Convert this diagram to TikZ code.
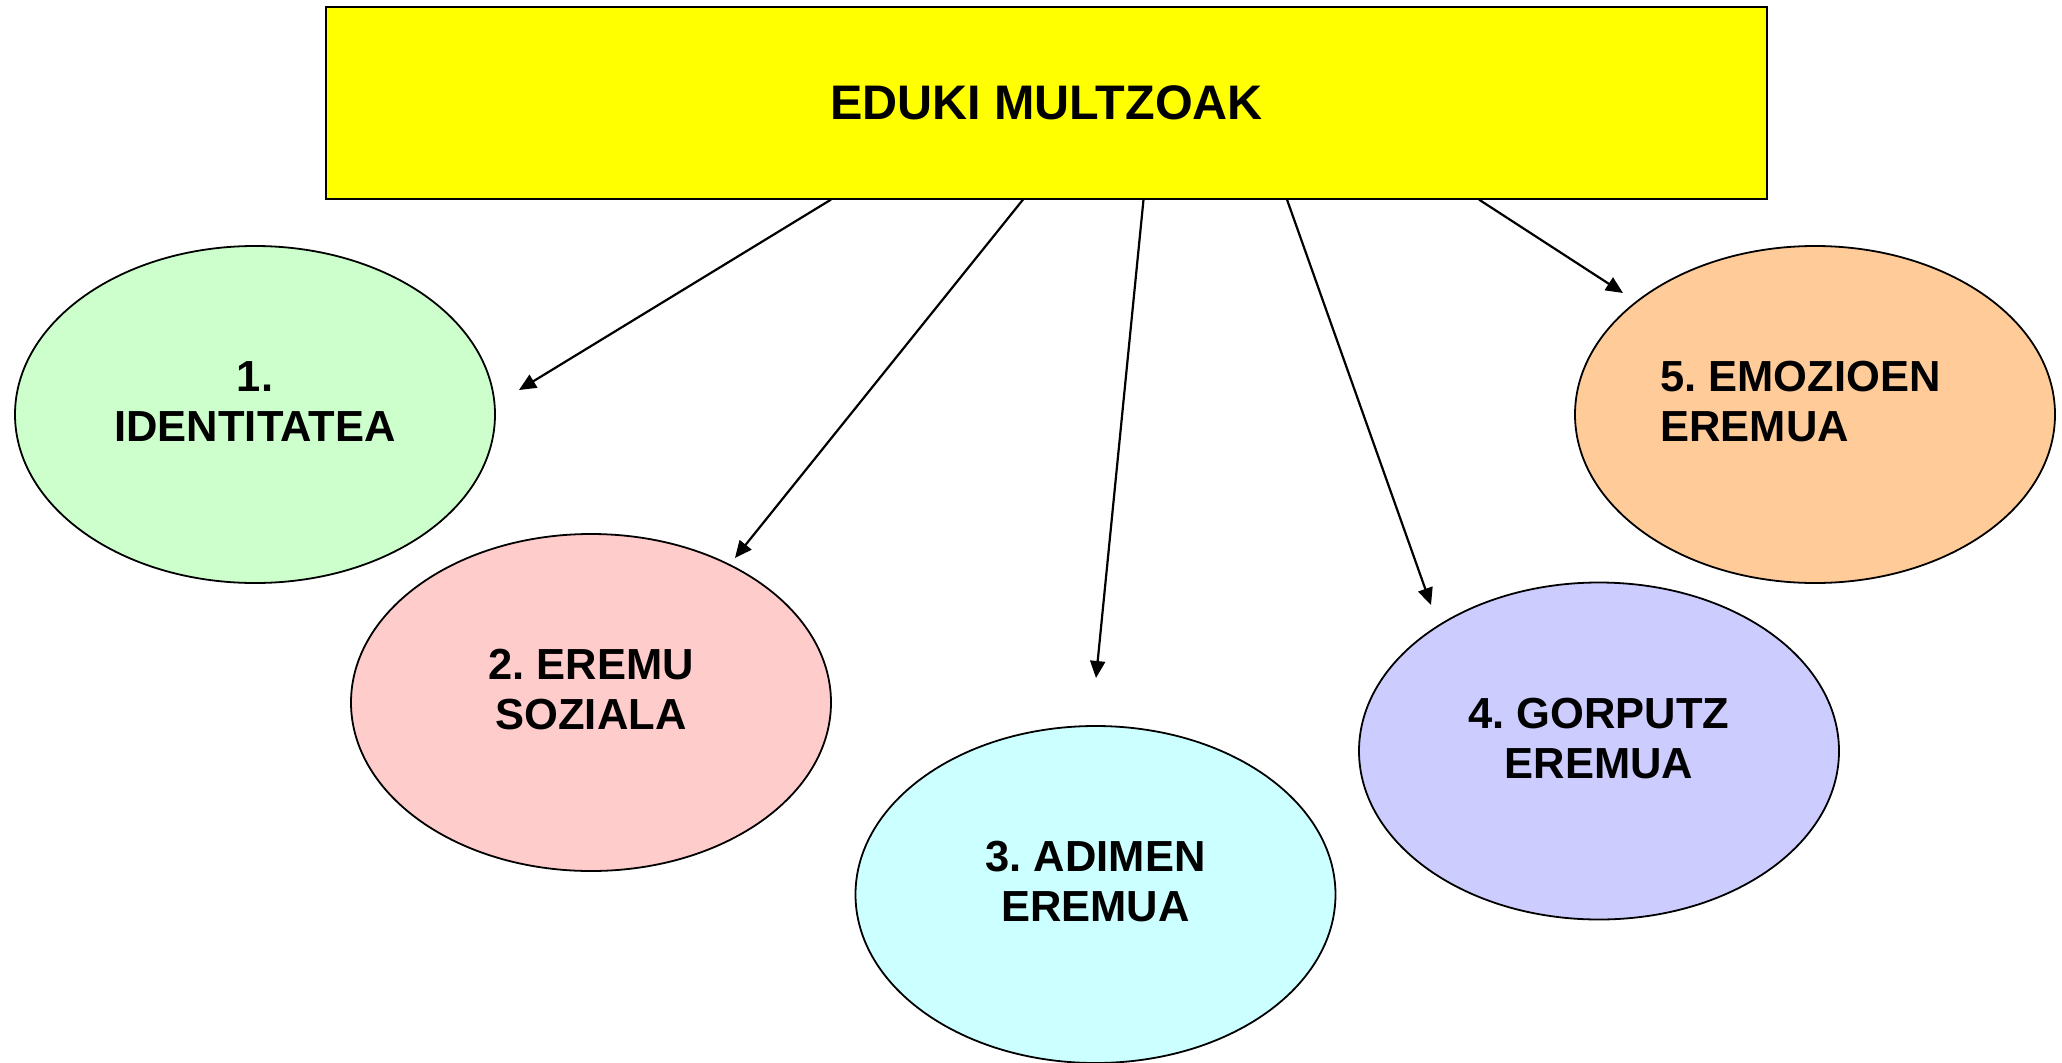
\documentclass[tikz,border=0pt]{standalone}
\usepackage{fontspec}
\setmainfont{Liberation Sans}
\usetikzlibrary{arrows.meta,shapes.geometric}
\frenchspacing
\definecolor{boxyellow}{HTML}{FFFF00}
\definecolor{cgreen}{HTML}{CCFFCC}
\definecolor{cpink}{HTML}{FFCCCC}
\definecolor{ccyan}{HTML}{CCFFFF}
\definecolor{clav}{HTML}{CCCCFF}
\definecolor{corange}{HTML}{FFCC99}
\tikzset{
  topbox/.style={draw=black, line width=2pt, fill=boxyellow, minimum width=1441pt, minimum height=192pt, inner sep=0pt,
    font=\fontsize{48.5}{56}\selectfont\bfseries},
  area/.style={ellipse, draw=black, line width=1.8pt, minimum width=480pt, minimum height=337pt, inner sep=0pt},
  areatext/.style={font=\fontsize{43.5}{50}\selectfont\bfseries, inner sep=0pt, align=center},
  arr/.style={draw=black, line width=2.2pt, -{Triangle[length=17pt,width=15pt]}}
}
\begin{document}
\frenchspacing
\begin{tikzpicture}[x=1pt,y=-1pt]
\useasboundingbox (0,0) rectangle (2062,1063);
\node[topbox] (box) at (1046.5,102.6) {EDUKI MULTZOAK};

\node[area, fill=cgreen] (e1) at (255,414.5) {};
\node[area, fill=cpink] (e2) at (591,702.5) {};
\node[area, fill=ccyan] (e3) at (1095.5,894.5) {};
\node[area, fill=clav] (e4) at (1599,751) {};
\node[area, fill=corange] (e5) at (1815,414.5) {};

\node[areatext] (l1) at ([yshift=12.5pt]e1.center) {1.\\IDENTITATEA};
\node[areatext] (l2) at ([yshift=12.5pt]e2.center) {2. EREMU\\SOZIALA};
\node[areatext] (l3) at ([yshift=12.5pt]e3.center) {3. ADIMEN\\EREMUA};
\node[areatext] (l4) at ([yshift=12.5pt]e4.center) {4. GORPUTZ\\EREMUA};
\node[areatext, align=left] (l5) at ([xshift=-14.5pt,yshift=12.5pt]e5.center) {5. EMOZIOEN\\EREMUA};

\coordinate (t1) at (519,390);
\coordinate (t2) at (735,558);
\coordinate (t3) at (1096,678);
\coordinate (t4) at (1431,605);
\coordinate (t5) at (1623,293);

\draw[arr] ([xshift=-215.5pt]box.south) -- (t1);
\draw[arr] ([xshift=-23.5pt]box.south) -- (t2);
\draw[arr] ([xshift=97pt]box.south) -- (t3);
\draw[arr] ([xshift=240.5pt]box.south) -- (t4);
\draw[arr] ([xshift=432.5pt]box.south) -- (t5);
\end{tikzpicture}
\end{document}
